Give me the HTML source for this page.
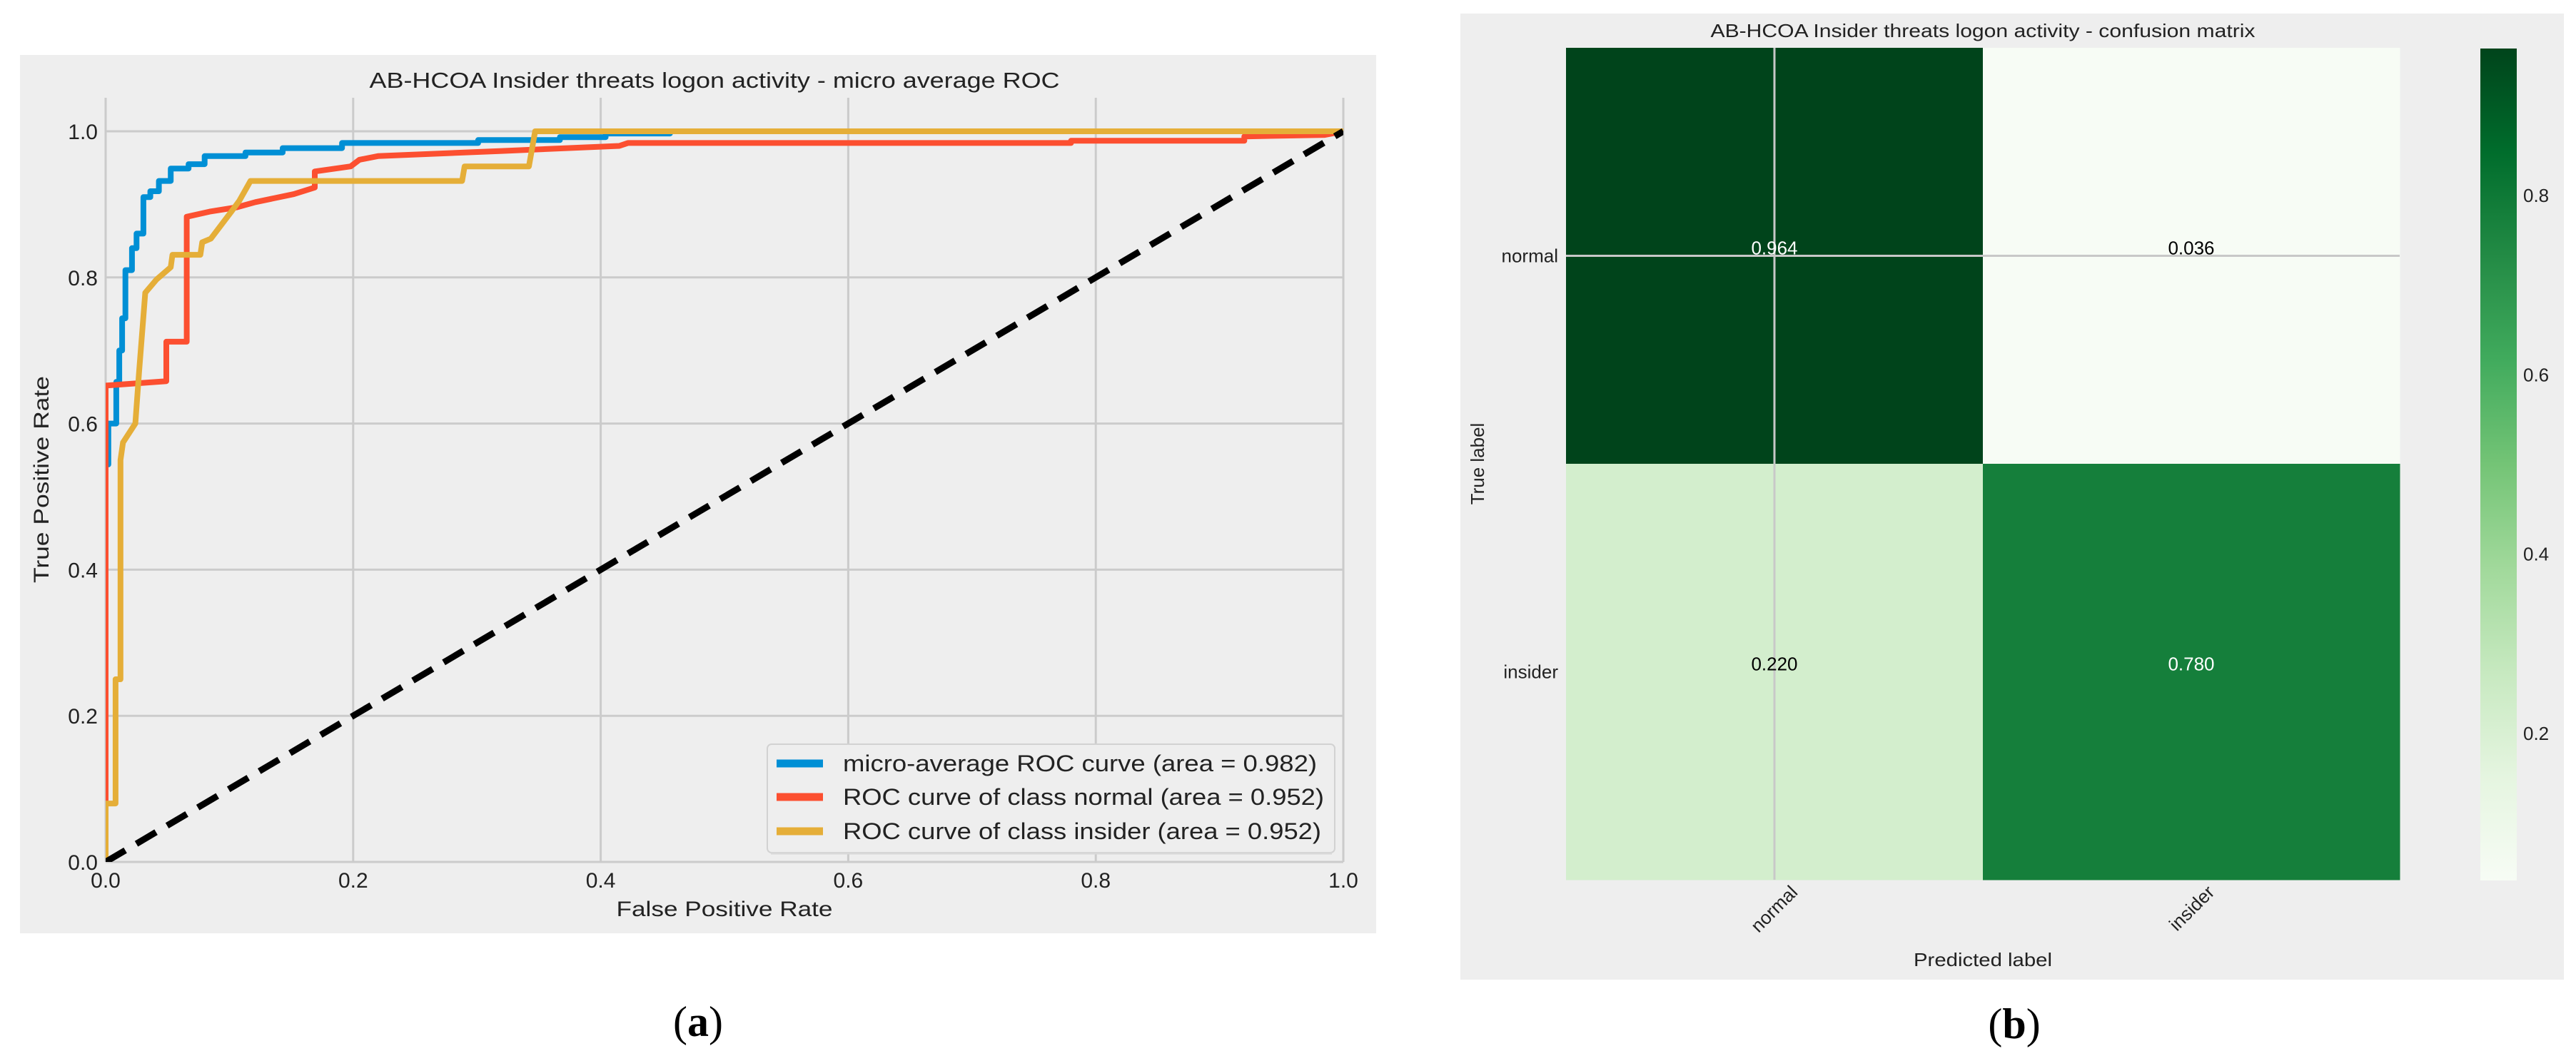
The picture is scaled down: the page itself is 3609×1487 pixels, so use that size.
<!DOCTYPE html>
<html><head><meta charset="utf-8"><style>
html,body{margin:0;padding:0;background:#fff;}
svg{display:block;font-family:"Liberation Sans","DejaVu Sans",sans-serif;}
</style></head><body>
<svg id="fig" width="3609" height="1487" viewBox="0 0 3609 1487" xmlns="http://www.w3.org/2000/svg">
<defs>
<clipPath id="axclip"><rect x="148" y="137" width="1734" height="1071"/></clipPath>
<linearGradient id="cbgrad" x1="0" y1="1" x2="0" y2="0">
<stop offset="0" stop-color="#f7fcf5"/><stop offset="0.125" stop-color="#e5f5e0"/><stop offset="0.25" stop-color="#c7e9c0"/><stop offset="0.375" stop-color="#a1d99b"/><stop offset="0.5" stop-color="#74c476"/><stop offset="0.625" stop-color="#41ab5d"/><stop offset="0.75" stop-color="#238b45"/><stop offset="0.875" stop-color="#006d2c"/><stop offset="1" stop-color="#00441b"/>
</linearGradient>
</defs>
<rect x="28" y="77" width="1900" height="1231" fill="#eeeeee"/>
<text x="1001" y="123" font-size="31" text-anchor="middle" textLength="967" lengthAdjust="spacingAndGlyphs" fill="#222">AB-HCOA Insider threats logon activity -  micro average ROC</text>
<g id="rocgrid"></g>
<g id="rocticks"></g>
<g id="roclines" clip-path="url(#axclip)"></g>
<text x="1015" y="1284" font-size="30" text-anchor="middle" textLength="303" lengthAdjust="spacingAndGlyphs" fill="#222">False Positive Rate</text>
<text transform="translate(68,672) rotate(-90)" font-size="30" text-anchor="middle" textLength="290" lengthAdjust="spacingAndGlyphs" fill="#222">True Positive Rate</text>
<g>
<rect x="1075" y="1043" width="795" height="152" rx="6" fill="#eeeeee" stroke="#d2d2d2" stroke-width="2"/>
<line x1="1080" y1="1196" x2="1866" y2="1196" stroke="#d8d8d8" stroke-width="3"/>
<g><line x1="1088" y1="1070" x2="1153" y2="1070" stroke="#008fd5" stroke-width="11"/><text x="1181" y="1081" font-size="32" textLength="664" lengthAdjust="spacingAndGlyphs" fill="#222">micro-average ROC curve (area = 0.982)</text></g>
<g><line x1="1088" y1="1117" x2="1153" y2="1117" stroke="#fc4f30" stroke-width="11"/><text x="1181" y="1128" font-size="32" textLength="674" lengthAdjust="spacingAndGlyphs" fill="#222">ROC curve of class normal (area = 0.952)</text></g>
<g><line x1="1088" y1="1165" x2="1153" y2="1165" stroke="#e5ae38" stroke-width="11"/><text x="1181" y="1176" font-size="32" textLength="670" lengthAdjust="spacingAndGlyphs" fill="#222">ROC curve of class insider (area = 0.952)</text></g>
</g>
<text x="978" y="1452" font-size="60" text-anchor="middle" font-family="'Liberation Serif',serif" fill="#000">(<tspan font-weight="bold">a</tspan>)</text>

<rect x="2046" y="19" width="1546" height="1354" fill="#eeeeee"/>
<text x="2778" y="52" font-size="26" text-anchor="middle" textLength="763" lengthAdjust="spacingAndGlyphs" fill="#222">AB-HCOA Insider threats logon activity -  confusion matrix</text>
<g id="cm"></g>
<text transform="translate(2079,650) rotate(-90)" font-size="26" text-anchor="middle" fill="#222">True label</text>
<text x="2778" y="1354" font-size="26" text-anchor="middle" textLength="194" lengthAdjust="spacingAndGlyphs" fill="#222">Predicted label</text>
<rect x="3475" y="68" width="51" height="1166" fill="url(#cbgrad)"/>
<g id="cbticks"></g>
<text x="2822" y="1455" font-size="60" text-anchor="middle" font-family="'Liberation Serif',serif" fill="#000">(<tspan font-weight="bold">b</tspan>)</text>
</svg>
<script>
const xTicks = [0, 0.2, 0.4, 0.6, 0.8, 1.0];
const yTicks = [0, 0.2, 0.4, 0.6, 0.8, 1.0];
const microFpr = [0,0,0.0022,0.0022,0.0086,0.0086,0.011,0.011,0.0133,0.0133,0.016,0.016,0.0213,0.0213,0.025,0.025,0.0305,0.0305,0.0361,0.0361,0.043,0.043,0.0526,0.0526,0.067,0.067,0.08,0.08,0.113,0.113,0.143,0.143,0.191,0.191,0.301,0.301,0.367,0.367,0.404,0.404,0.456,0.456,1];
const microTpr = [0,0.544,0.544,0.6,0.6,0.657,0.657,0.7,0.7,0.744,0.744,0.81,0.81,0.84,0.84,0.86,0.86,0.91,0.91,0.918,0.918,0.932,0.932,0.949,0.949,0.955,0.955,0.966,0.966,0.971,0.971,0.977,0.977,0.984,0.984,0.988,0.988,0.992,0.992,0.997,0.997,1,1];
const normalFpr = [0,0,0.049,0.049,0.0655,0.0655,0.084,0.106,0.121,0.152,0.169,0.169,0.198,0.205,0.22,0.32,0.415,0.422,0.75,0.78,0.78,0.92,0.92,0.985,1];
const normalTpr = [0,0.652,0.658,0.712,0.712,0.883,0.89,0.896,0.903,0.914,0.923,0.945,0.952,0.961,0.966,0.973,0.98,0.984,0.984,0.984,0.987,0.987,0.993,0.995,1];
const insiderFpr = [0,0,0.008,0.008,0.012,0.012,0.014,0.024,0.027,0.032,0.041,0.0526,0.054,0.0765,0.078,0.085,0.102,0.108,0.117,0.288,0.29,0.342,0.347,1];
const insiderTpr = [0,0.08,0.08,0.25,0.25,0.55,0.574,0.6,0.67,0.779,0.797,0.814,0.831,0.831,0.848,0.853,0.891,0.905,0.932,0.932,0.952,0.952,1,1];
const chanceFpr = [0,1];
const chanceTpr = [0,1];
const cmLabels = ['normal','insider'];
const cmValues = [[0.964,0.036],[0.220,0.780]];
const cbTicks = [0.2,0.4,0.6,0.8];

const NS='http://www.w3.org/2000/svg';
const X0=148,X1=1882,Y0=1208,Y1=184;
function xs(v){return X0+v*(X1-X0);}
function ys(v){return Y0-v*(Y0-Y1);}
function mk(tag,attrs,parent){const e=document.createElementNS(NS,tag);for(const k in attrs)e.setAttribute(k,attrs[k]);parent.appendChild(e);return e;}

const grid=document.getElementById('rocgrid');
const ticks=document.getElementById('rocticks');
xTicks.forEach(v=>{
  const l=mk('line',{x1:xs(v),x2:xs(v),y1:137,y2:1208,stroke:'#cbcbcb','stroke-width':3},grid);
  
  
  const t=mk('text',{x:xs(v),y:1244,'font-size':30,'text-anchor':'middle',fill:'#222'},ticks);
  t.textContent=v.toFixed(1);
  
  
});
yTicks.forEach(v=>{
  const l=mk('line',{x1:148,x2:1882,y1:ys(v),y2:ys(v),stroke:'#cbcbcb','stroke-width':3},grid);
  
  
  const t=mk('text',{x:137,y:ys(v)+11,'font-size':30,'text-anchor':'end',fill:'#222'},ticks);
  t.textContent=v.toFixed(1);
  
  
});
const lines=document.getElementById('roclines');
function path(fx,fy){return fx.map((v,i)=>(i?'L':'M')+xs(v).toFixed(1)+','+ys(fy[i]).toFixed(1)).join(' ');}
const pm=mk('path',{d:path(microFpr,microTpr),fill:'none',stroke:'#008fd5','stroke-width':8,'stroke-linejoin':'round'},lines);


const pn=mk('path',{d:path(normalFpr,normalTpr),fill:'none',stroke:'#fc4f30','stroke-width':8,'stroke-linejoin':'round'},lines);


const pi=mk('path',{d:path(insiderFpr,insiderTpr),fill:'none',stroke:'#e5ae38','stroke-width':8,'stroke-linejoin':'round'},lines);


const pc=mk('path',{d:path(chanceFpr,chanceTpr),fill:'none',stroke:'#000','stroke-width':9,'stroke-dasharray':'32 18'},lines);



// confusion matrix
const stops=[[247,252,245],[229,245,224],[199,233,192],[161,217,155],[116,196,118],[65,171,93],[35,139,69],[0,109,44],[0,68,27]];
const vmin=0.036,vmax=0.964;
function greens(v){let t=(v-vmin)/(vmax-vmin);t=Math.max(0,Math.min(1,t))*8;const i=Math.min(7,Math.floor(t));const f=t-i;const a=stops[i],b=stops[i+1];return 'rgb('+a.map((c,k)=>Math.round(c+(b[k]-c)*f)).join(',')+')';}
const CX0=2194,CY0=67,CW=584,CH=583;
const cm=document.getElementById('cm');
cmValues.forEach((row,r)=>row.forEach((v,c)=>{
  const rc=mk('rect',{x:CX0+c*CW,y:CY0+r*CH,width:CW+0.5,height:CH+0.5,fill:greens(v)},cm);
  
  
}));
const gv=mk('line',{x1:CX0+CW/2,x2:CX0+CW/2,y1:CY0,y2:CY0+2*CH,stroke:'#c8c8c8','stroke-width':3},cm);


const gh=mk('line',{x1:CX0,x2:CX0+2*CW,y1:CY0+CH/2,y2:CY0+CH/2,stroke:'#c8c8c8','stroke-width':3},cm);


cmValues.forEach((row,r)=>row.forEach((v,c)=>{
  const t=mk('text',{x:CX0+c*CW+CW/2,y:CY0+r*CH+CH/2-2,'font-size':26,'text-anchor':'middle',fill:v>0.5?'#fff':'#000'},cm);
  t.textContent=v.toFixed(3);
  
  
}));
cmLabels.forEach((lab,i)=>{
  const ty=mk('text',{x:2183,y:CY0+i*CH+CH/2+9,'font-size':26,'text-anchor':'end',fill:'#222'},cm);
  ty.textContent=lab;
  
  
  const cx=CX0+i*CW+CW/2+34, cy=1252;
  const tx=mk('text',{x:cx,y:cy,'font-size':26,'text-anchor':'end',fill:'#222',transform:'rotate(-45 '+cx+' '+cy+')'},cm);
  tx.textContent=lab;
  
  
});
const cbg=document.getElementById('cbticks');
cbTicks.forEach(v=>{
  const y=1234-(v-vmin)/(vmax-vmin)*1166;
  const t=mk('text',{x:3535,y:y+9,'font-size':26,fill:'#222'},cbg);
  t.textContent=v.toFixed(1);
  
  
});
</script>
</body></html>
